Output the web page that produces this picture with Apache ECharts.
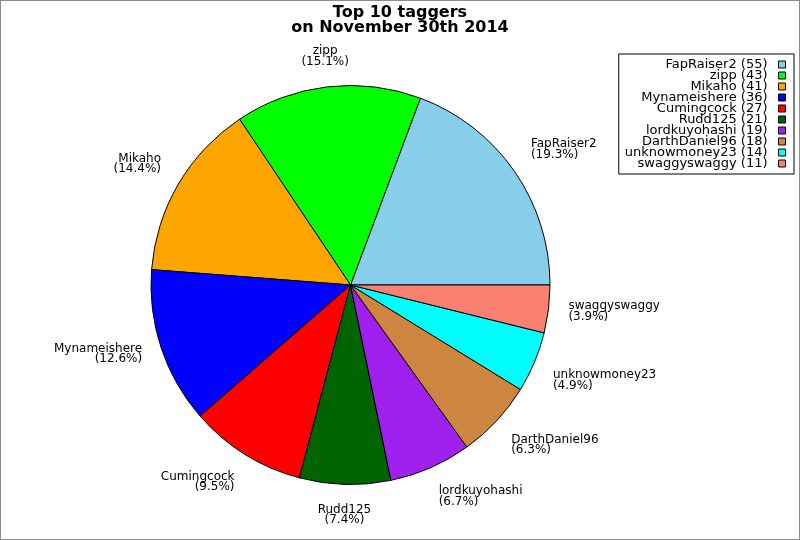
<!DOCTYPE html>
<html>
<head>
<meta charset="utf-8">
<script src="https://cdn.jsdelivr.net/npm/echarts@6/dist/echarts.min.js"></script>
<style>
html,body{margin:0;padding:0;background:#fff;}
#chart{width:800px;height:540px;box-sizing:border-box;border:1px solid #8c8c8c;}
</style>
</head>
<body>
<div id="chart"></div>
<script>
const names = ['FapRaiser2','zipp','Mikaho','Mynameishere','Cumingcock','Rudd125','lordkuyohashi','DarthDaniel96','unknowmoney23','swaggyswaggy'];
const counts = [55,43,41,36,27,21,19,18,14,11];
const colors = ['#87CEEB','#00FF00','#FFA500','#0000FF','#FF0000','#006400','#A020F0','#CD853F','#00FFFF','#FA8072'];
const titleText = 'Top 10 taggers\non November 30th 2014';

const total = counts.reduce((a,b)=>a+b,0);
const countByName = {};
names.forEach((n,i)=>{countByName[n]=counts[i];});
// mid angles (deg, counterclockwise from 3 o'clock) derived from data
const midAngles = [];
let cum = 0;
counts.forEach(v=>{ midAngles.push((cum + v/2)/total*360); cum += v; });

const chart = echarts.init(document.getElementById('chart'));
const FONT = 'DejaVu Sans';
chart.setOption({
  animation: false,
  backgroundColor: '#fff',
  title: {
    text: titleText,
    left: 'center',
    top: -1,
    textStyle: {fontFamily: FONT, fontSize: 16, fontWeight: 'bold', color: '#000', lineHeight: 15}
  },
  legend: {
    orient: 'vertical',
    right: 5,
    top: 53,
    align: 'right',
    padding: [4, 8, 4, 6],
    borderColor: '#000',
    borderWidth: 1,
    backgroundColor: '#fff',
    borderRadius: 0,
    itemWidth: 7,
    itemHeight: 7,
    itemGap: -2,
    icon: 'rect',
    selectedMode: false,
    itemStyle: {borderColor: '#000', borderWidth: 1},
    textStyle: {fontFamily: FONT, fontSize: 13, color: '#000', lineHeight: 11, padding: [0, 6, 0, 0]},
    formatter: function(name){ return name + ' (' + countByName[name] + ')'; },
    data: names
  },
  series: [{
    type: 'pie',
    center: [349.5, 284],
    radius: 199.5,
    startAngle: 0,
    clockwise: false,
    avoidLabelOverlap: false,
    silent: true,
    emphasis: {disabled: true},
    itemStyle: {borderColor: '#000', borderWidth: 1},
    label: {
      show: true,
      position: 'outside',
      fontFamily: FONT,
      fontSize: 12,
      color: '#000',
      lineHeight: 10.5,
      distanceToLabelLine: 0,
      formatter: function(p){ return p.name + '\n(' + (p.value/total*100).toFixed(1) + '%)'; }
    },
    labelLine: {show: false, length: 20, length2: 0},
    labelLayout: function(params){
      const a = midAngles[params.dataIndex] * Math.PI / 180;
      const c = Math.cos(a), s = Math.sin(a);
      const out = {};
      if (Math.abs(c) < 0.2) out.align = 'center';
      if (s > 0) out.verticalAlign = 'bottom';
      else if (s < -0.35) out.verticalAlign = 'top';
      else out.verticalAlign = 'middle';
      return out;
    },
    data: names.map((n,i)=>({name: n, value: counts[i], itemStyle: {color: colors[i]}}))
  }]
});
</script>
</body>
</html>
